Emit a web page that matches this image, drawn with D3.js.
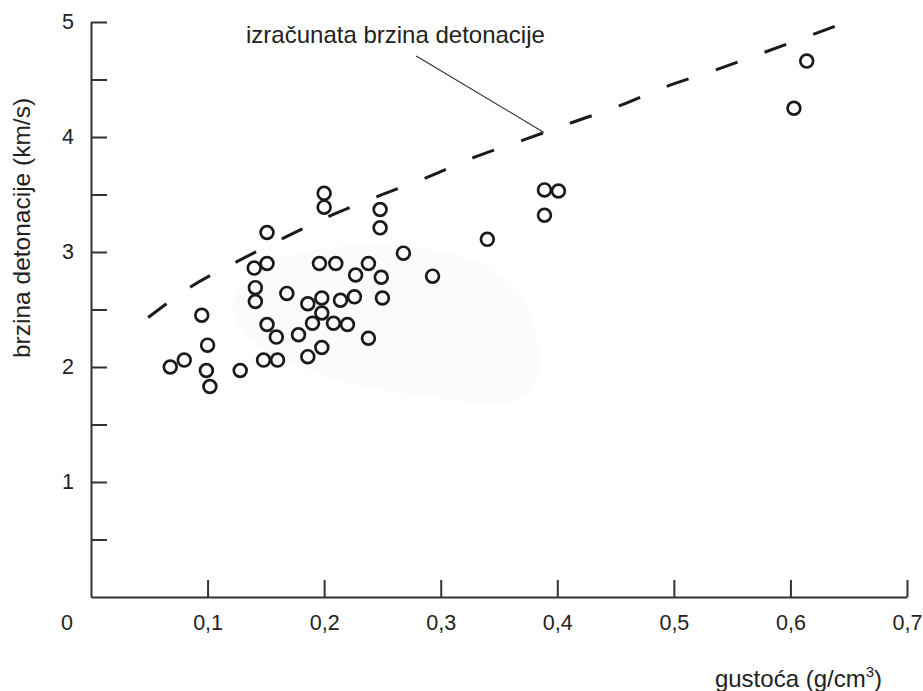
<!DOCTYPE html>
<html>
<head>
<meta charset="utf-8">
<script src="https://cdn.jsdelivr.net/npm/d3@7"></script>
<style>
  html, body { margin: 0; padding: 0; background: #fff; }
  svg { display: block; font-family: "Liberation Sans", Arial, sans-serif; }
</style>
</head>
<body>
<svg id="chart" width="923" height="691"></svg>
<script>
// ---- data ----
const densityX = [0.068, 0.080, 0.095, 0.100, 0.099, 0.102, 0.128, 0.140, 0.141, 0.141,
  0.151, 0.151, 0.151, 0.159, 0.148, 0.160, 0.168, 0.178, 0.186, 0.186,
  0.190, 0.196, 0.198, 0.198, 0.198, 0.200, 0.200, 0.210, 0.208, 0.214,
  0.220, 0.226, 0.227, 0.238, 0.238, 0.248, 0.248, 0.249, 0.250, 0.268,
  0.293, 0.340, 0.389, 0.401, 0.389, 0.603, 0.614];
const velocityY = [2.00, 2.06, 2.45, 2.19, 1.97, 1.83, 1.97, 2.86, 2.69, 2.57,
  3.17, 2.90, 2.37, 2.26, 2.06, 2.06, 2.64, 2.28, 2.55, 2.09,
  2.38, 2.90, 2.60, 2.47, 2.17, 3.51, 3.39, 2.90, 2.38, 2.58,
  2.37, 2.61, 2.80, 2.90, 2.25, 3.37, 3.21, 2.78, 2.60, 2.99,
  2.79, 3.11, 3.54, 3.53, 3.32, 4.25, 4.66];

// calculated detonation velocity (dashed curve)
const calcX = [0.049, 0.086, 0.124, 0.165, 0.204, 0.245, 0.286, 0.328, 0.370, 0.411, 0.453, 0.494, 0.535, 0.576, 0.619, 0.640];
const calcY = [2.43, 2.70, 2.91, 3.12, 3.31, 3.48, 3.64, 3.82, 3.97, 4.12, 4.27, 4.44, 4.58, 4.73, 4.89, 4.97];

const xTickValues = [0.1, 0.2, 0.3, 0.4, 0.5, 0.6, 0.7];
const xTickLabels = ["0,1", "0,2", "0,3", "0,4", "0,5", "0,6", "0,7"];
const yTickValues = [0.5, 1, 1.5, 2, 2.5, 3, 3.5, 4, 4.5, 5];
const yTickLabels = ["", "1", "", "2", "", "3", "", "4", "", "5"];

const annotText = "izračunata brzina detonacije";
const annotAnchor = [0.133, 4.82];
const leaderX = [0.279, 0.3885];
const leaderY = [4.705, 4.04];

// faint background smudge present in the source image
const smudgeX = [0.122, 0.150, 0.205, 0.282, 0.340, 0.376, 0.376, 0.268, 0.185, 0.132];
const smudgeY = [2.58, 2.88, 3.04, 3.04, 2.87, 2.50, 1.77, 1.77, 1.98, 2.28];

const xTitle = "gustoća (g/cm";
const yTitle = "brzina detonacije (km/s)";

// ---- layout ----
const svg = d3.select("#chart");
const x = d3.scaleLinear().domain([0, 0.7]).range([91, 907]);
const y = d3.scaleLinear().domain([0, 5]).range([597, 22]);
const ink = "#1a1a1a";

// smudge
svg.append("path")
  .datum(smudgeX.map((d, i) => [d, smudgeY[i]]))
  .attr("d", d3.line().x(d => x(d[0])).y(d => y(d[1])).curve(d3.curveCatmullRomClosed.alpha(0.5)))
  .attr("fill", "#fbfbfb")
  .attr("stroke", "none");

// axes
const xAxis = d3.axisBottom(x)
  .tickValues(xTickValues)
  .tickFormat((d, i) => xTickLabels[i])
  .tickSizeInner(-17)
  .tickSizeOuter(0)
  .tickPadding(18);
const gx = svg.append("g").attr("transform", `translate(0,${y(0)})`).call(xAxis);

const yAxis = d3.axisLeft(y)
  .tickValues(yTickValues)
  .tickFormat((d, i) => yTickLabels[i])
  .tickSizeInner(-16)
  .tickSizeOuter(0)
  .tickPadding(17);
const gy = svg.append("g").attr("transform", `translate(${x(0)},0)`).call(yAxis);

[gx, gy].forEach(g => {
  g.select(".domain").attr("stroke", "#333").attr("stroke-width", 2);
  g.selectAll(".tick line").attr("stroke", "#333").attr("stroke-width", 2);
  g.selectAll(".tick text").attr("fill", "#222").attr("font-size", 21.5)
    .attr("font-family", "'Liberation Sans', Arial, sans-serif");
});

// origin label
svg.append("text")
  .attr("x", x(0) - 24).attr("y", y(0) + 18)
  .attr("dy", "0.71em")
  .attr("text-anchor", "middle")
  .attr("font-size", 21.5).attr("fill", "#222")
  .text("0");

// dashed calculated line
svg.append("path")
  .datum(calcX.map((d, i) => [d, calcY[i]]))
  .attr("d", d3.line().x(d => x(d[0])).y(d => y(d[1])).curve(d3.curveMonotoneX))
  .attr("fill", "none")
  .attr("stroke", ink)
  .attr("stroke-width", 3)
  .attr("stroke-dasharray", "23,28.8");

// points
svg.append("g").selectAll("circle")
  .data(densityX.map((d, i) => [d, velocityY[i]]))
  .join("circle")
  .attr("cx", d => x(d[0]))
  .attr("cy", d => y(d[1]))
  .attr("r", 6.4)
  .attr("fill", "none")
  .attr("stroke", ink)
  .attr("stroke-width", 2.7);

// annotation
svg.append("text")
  .attr("x", x(annotAnchor[0])).attr("y", y(annotAnchor[1]))
  .attr("font-size", 24).attr("fill", "#222")
  .text(annotText);
svg.append("line")
  .attr("x1", x(leaderX[0])).attr("y1", y(leaderY[0]))
  .attr("x2", x(leaderX[1])).attr("y2", y(leaderY[1]))
  .attr("stroke", "#333").attr("stroke-width", 1.2);

// axis titles
const xt = svg.append("text")
  .attr("x", 882).attr("y", 687)
  .attr("text-anchor", "end")
  .attr("font-size", 24).attr("fill", "#222");
xt.append("tspan").text(xTitle);
xt.append("tspan").attr("font-size", 15).attr("dy", -10).text("3");
xt.append("tspan").attr("dy", 10).text(")");

svg.append("text")
  .attr("transform", "translate(30,228) rotate(-90)")
  .attr("text-anchor", "middle")
  .attr("font-size", 24.5).attr("fill", "#222")
  .text(yTitle);
</script>
</body>
</html>
